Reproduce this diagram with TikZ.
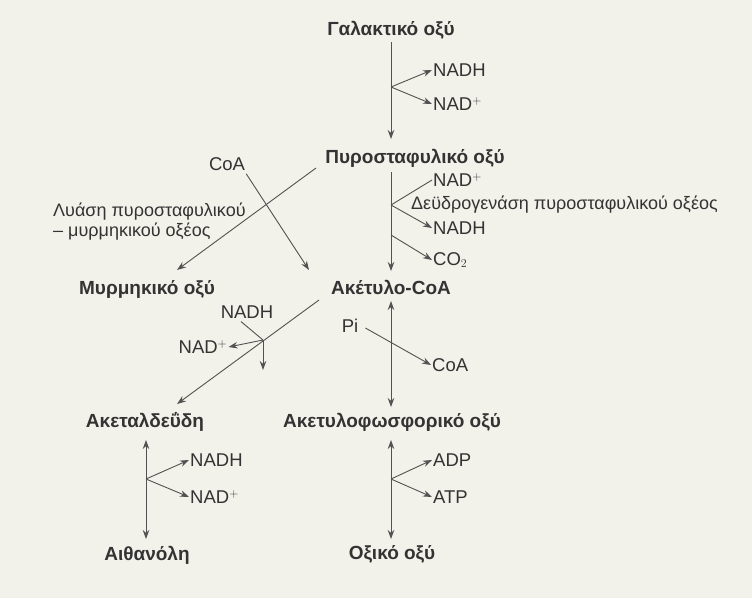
\documentclass[tikz,border=0pt]{standalone}
\usepackage{fontspec}
\setmainfont{Liberation Sans}
\usetikzlibrary{arrows.meta}
\definecolor{bg}{HTML}{F2F1EA}
\definecolor{ink}{HTML}{333333}
\begin{document}
\begin{tikzpicture}[x=1pt,y=-1pt,
  comp/.style={font=\fontsize{19}{21}\selectfont\bfseries, text=ink, inner sep=1pt},
  lab/.style={font=\fontsize{18.5}{20}\selectfont, text=ink, inner sep=1pt},
  small/.style={font=\fontsize{18}{20}\selectfont, text=ink, inner sep=1pt},
  arr/.style={draw=ink!85, line width=0.9pt, -{Stealth[length=9pt,width=6.5pt]}},
  darr/.style={draw=ink!85, line width=0.9pt, {Stealth[length=9pt,width=6.5pt]}-{Stealth[length=9pt,width=6.5pt]}},
  ln/.style={draw=ink!85, line width=0.9pt}]
\fill[bg] (0,0) rectangle (752,598);
\useasboundingbox (0,0) rectangle (752,598);
% compounds
\node[comp] (lac) at (391,30) {Γαλακτικό οξύ};
\node[comp] (pyr) at (415,158) {Πυροσταφυλικό οξύ};
\node[comp] (acc) at (391,287) {Ακέτυλο-CoA};
\node[comp] (form) at (147,289) {Μυρμηκικό οξύ};
\node[comp] (ald) at (145,422) {Ακεταλδεΰδη};
\node[comp] (acp) at (392,422) {Ακετυλοφωσφορικό οξύ};
\node[comp] (eth) at (147,555) {Αιθανόλη};
\node[comp] (ace) at (392,554) {Οξικό οξύ};
% cofactors
\node[lab,anchor=west] (n1) at (432,70) {NADH};
\node[lab,anchor=west] (n2) at (432,104) {NAD$^{+}$};
\node[lab,anchor=west] (n3) at (432,180) {NAD$^{+}$};
\node[small,anchor=west] (dh) at (410,205) {Δεϋδρογενάση πυροσταφυλικού οξέος};
\node[lab,anchor=west] (n4) at (432,228) {NADH};
\node[lab,anchor=west] (co2) at (432,260) {CO$_2$};
\node[lab] (coa1) at (227,164) {CoA};
\node[small,anchor=west,align=left] (lyase) at (52,222) {Λυάση πυροσταφυλικού\\– μυρμηκικού οξέος};
\node[lab] (n5) at (247,312) {NADH};
\node[lab] (n6) at (203,347) {NAD$^{+}$};
\node[lab] (pi) at (350,326) {Pi};
\node[lab,anchor=west] (coa2) at (431,365) {CoA};
\node[lab,anchor=west] (n7) at (189,460) {NADH};
\node[lab,anchor=west] (n8) at (189,497) {NAD$^{+}$};
\node[lab,anchor=west] (adp) at (432,460) {ADP};
\node[lab,anchor=west] (atp) at (432,497) {ATP};
% lactate -> pyruvate
\coordinate (b1) at (391,87);
\draw[arr] (391,42) -- (391,139);
\draw[arr] (b1) -- (n1.west);
\draw[arr] (b1) -- (n2.west);
% pyruvate -> acetyl-CoA
\coordinate (b2) at (391,205);
\coordinate (b3) at (391,235);
\draw[arr] (391,172) -- (391,271);
\draw[ln] (b2) -- (n3.west);
\draw[arr] (b2) -- (n4.west);
\draw[arr] (b3) -- (co2.west);
% lyase cross
\draw[arr] (316,168) -- (177,270);
\draw[arr] (coa1.south east) ++(0,2) coordinate (c1) -- (309,270);
% acetyl-CoA -> acetaldehyde
\coordinate (j) at (263,340);
\draw[arr] (319,300) -- (177,404);
\draw[ln] (n5.south) ++(-6,2) coordinate (c2) -- (j);
\draw[arr] (j) -- (n6.east);
\draw[arr] (j) -- (263,370);
% acetyl-CoA <-> acetyl phosphate
\draw[darr] (391,301) -- (391,407);
\draw[arr] (pi.east) ++(6,2) coordinate (c3) -- (coa2.west);
% acetaldehyde <-> ethanol
\coordinate (b4) at (146,479);
\draw[darr] (146,440) -- (146,539);
\draw[arr] (b4) -- (n7.west);
\draw[arr] (b4) -- (n8.west);
% acetyl phosphate <-> acetate
\coordinate (b5) at (391,479);
\draw[darr] (391,440) -- (391,539);
\draw[arr] (b5) -- (adp.west);
\draw[arr] (b5) -- (atp.west);
\end{tikzpicture}
\end{document}
